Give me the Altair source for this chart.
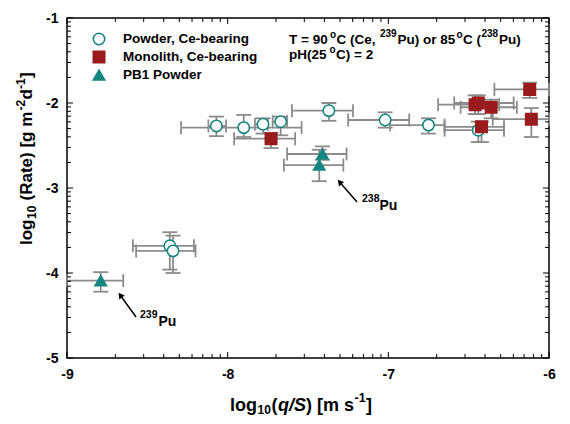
import altair as alt
import pandas as pd
import numpy as np

# ---------------- data ----------------
series_names = ["Powder, Ce-bearing", "Monolith, Ce-bearing", "PB1 Powder"]

powder_x   = [-8.07, -7.90, -7.78, -7.67, -7.37, -7.02, -6.75, -6.44, -8.36, -8.34]
powder_y   = [-2.27, -2.29, -2.25, -2.22, -2.09, -2.20, -2.26, -2.32, -3.68, -3.74]
powder_xlo = [-8.12, -8.29, -7.83, -7.72, -7.60, -7.25, -6.99, -6.65, -8.59, -8.57]
powder_xhi = [-8.01, -7.54, -7.75, -7.63, -7.22, -6.87, -6.65, -6.28, -8.21, -8.20]
powder_ylo = [-2.39, -2.40, -2.36, -2.38, -2.21, -2.29, -2.36, -2.46, -3.96, -4.00]
powder_yhi = [-2.16, -2.14, -2.18, -2.16, -2.00, -2.11, -2.18, -2.22, -3.52, -3.56]

mono_x   = [-7.73, -6.46, -6.44, -6.36, -6.42, -6.12, -6.11]
mono_y   = [-2.42, -2.02, -2.00, -2.05, -2.28, -1.84, -2.19]
mono_xlo = [-7.96, -6.69, -6.59, -6.55, -6.65, -6.34, -6.35]
mono_xhi = [-7.58, -6.31, -6.22, -6.20, -6.28, -6.00, -6.00]
mono_ylo = [-2.53, -2.13, -2.13, -2.18, -2.46, -1.94, -2.40]
mono_yhi = [-2.35, -1.91, -1.91, -1.96, -2.22, -1.76, -2.06]

pb_x   = [-8.79, -7.41, -7.43]
pb_y   = [-4.09, -2.60, -2.73]
pb_xlo = [-9.00, -7.63, -7.65]
pb_xhi = [-8.65, -7.26, -7.28]
pb_ylo = [-4.22, -2.67, -2.92]
pb_yhi = [-3.99, -2.51, -2.55]

x_major = [-9, -8, -7, -6]
y_major = [-5, -4, -3, -2, -1]

# ---------------- layout / style ----------------
W, H = 482, 340
TEAL = "#168680"
RED = "#9a1b1e"
GRAY = "#8c8c8c"
FONT = "Liberation Sans"


def dx(px):  # page pixel -> data x (annotations only)
    return -9 + (px - 67) * 3 / W


def dy(py):  # page pixel -> data y (annotations only)
    return -1 - (py - 18) * 4 / H


rows = []
for name, xs, ys, xl, xh, yl, yh in [
    (series_names[0], powder_x, powder_y, powder_xlo, powder_xhi, powder_ylo, powder_yhi),
    (series_names[1], mono_x, mono_y, mono_xlo, mono_xhi, mono_ylo, mono_yhi),
    (series_names[2], pb_x, pb_y, pb_xlo, pb_xhi, pb_ylo, pb_yhi),
]:
    for i in range(len(xs)):
        rows.append(dict(series=name, x=xs[i], y=ys[i], xlo=xl[i], xhi=xh[i], ylo=yl[i], yhi=yh[i]))
df = pd.DataFrame(rows)

x_scale = alt.Scale(domain=[-9, -6], nice=False, zero=False)
y_scale = alt.Scale(domain=[-5, -1], nice=False, zero=False)

axis_common = dict(
    title=None, labelExpr="'' + datum.value",
    labelFont=FONT, labelFontSize=14, labelFontWeight="bold", labelColor="black",
    labelPadding=9, labelFlush=False, ticks=False, domain=False, grid=False,
)
x_axis = alt.Axis(values=x_major, **axis_common)
y_axis = alt.Axis(values=y_major, **axis_common)


def X(f):
    return alt.X(f, type="quantitative", scale=x_scale, axis=x_axis)


def Y(f):
    return alt.Y(f, type="quantitative", scale=y_scale, axis=y_axis)


base = alt.Chart(df)
layers = []

# error bars
layers.append(base.mark_rule(color=GRAY, strokeWidth=1.8).encode(x=X("xlo"), x2="xhi", y=Y("y")))
layers.append(base.mark_rule(color=GRAY, strokeWidth=1.8).encode(x=X("x"), y=Y("ylo"), y2="yhi"))
for f in ["xlo", "xhi"]:
    layers.append(base.mark_tick(color=GRAY, orient="vertical", size=13, thickness=1.8, opacity=1)
                  .encode(x=X(f), y=Y("y")))
for f in ["ylo", "yhi"]:
    layers.append(base.mark_tick(color=GRAY, orient="horizontal", size=15, thickness=1.8, opacity=1)
                  .encode(x=X("x"), y=Y(f)))

# points with merged legend
leg = alt.Legend(
    title=None, orient="none", legendX=25, legendY=14, padding=0,
    labelFont=FONT, labelFontSize=13.5, labelFontWeight="bold", labelColor="black",
    symbolSize=130, symbolStrokeWidth=1.6, labelOffset=17, rowPadding=0,
)
layers.append(
    base.mark_point(size=130, strokeWidth=1.6, opacity=1).encode(
        x=X("x"), y=Y("y"),
        shape=alt.Shape("series:N", scale=alt.Scale(domain=series_names, range=["circle", "square", "triangle-up"]), legend=leg),
        fill=alt.Fill("series:N", scale=alt.Scale(domain=series_names, range=["white", RED, TEAL]), legend=leg),
        stroke=alt.Stroke("series:N", scale=alt.Scale(domain=series_names, range=[TEAL, RED, TEAL]), legend=leg),
    )
)

# frame ticks (inward, on all four sides)
x_minor = [d + np.log10(k) for d in [-9, -8, -7] for k in range(2, 10)]
y_minor = [d + np.log10(k) for d in [-5, -4, -3, -2] for k in range(2, 10)]
for vals, L in [(x_major, 6), (x_minor, 4)]:
    t = alt.Chart(pd.DataFrame({"v": vals})).mark_rule(color="black", strokeWidth=1)
    layers.append(t.encode(x=X("v"), y=alt.value(H), y2=alt.value(H - L)))
    layers.append(t.encode(x=X("v"), y=alt.value(0), y2=alt.value(L)))
for vals, L in [(y_major, 6), (y_minor, 4)]:
    t = alt.Chart(pd.DataFrame({"v": vals})).mark_rule(color="black", strokeWidth=1)
    layers.append(t.encode(y=Y("v"), x=alt.value(0), x2=alt.value(L)))
    layers.append(t.encode(y=Y("v"), x=alt.value(W), x2=alt.value(W - L)))

# arrows
arrows = pd.DataFrame({
    "x1": [dx(136), dx(357)], "y1": [dy(317), dy(202)],
    "x2": [dx(120.3), dx(339.6)], "y2": [dy(295.2), dy(182.0)],
    "ang": [324, 319],
})
layers.append(alt.Chart(arrows).mark_rule(color="black", strokeWidth=1.5)
              .encode(x=X("x1"), y=Y("y1"), x2="x2", y2="y2"))
layers.append(alt.Chart(arrows).mark_point(shape="triangle-up", size=45, filled=True, color="black", opacity=1)
              .encode(x=X("x2"), y=Y("y2"), angle=alt.Angle("ang:Q", scale=None)))

# annotation texts (horizontal)
texts = pd.DataFrame([
    dict(px=140, py=315, t="239", fs=10.5),
    dict(px=158.5, py=322, t="Pu", fs=14),
    dict(px=362, py=199, t="238", fs=10.5),
    dict(px=379.5, py=206, t="Pu", fs=14),
    dict(px=289, py=40, t="T = 90", fs=13.5),
    dict(px=330, py=35, t="o", fs=10),
    dict(px=336.5, py=40, t="C (Ce,", fs=13.5),
    dict(px=380, py=34, t="239", fs=10),
    dict(px=397.5, py=40, t="Pu) or 85", fs=13.5),
    dict(px=456.5, py=35, t="o", fs=10),
    dict(px=463, py=40, t="C (", fs=13.5),
    dict(px=481.5, py=34, t="238", fs=10),
    dict(px=499, py=40, t="Pu)", fs=13.5),
    dict(px=289, py=55, t="pH(25", fs=13.5),
    dict(px=329.5, py=50, t="o", fs=10),
    dict(px=336, py=55, t="C) = 2", fs=13.5),
    # x-axis title pieces
    dict(px=230, py=405.5, t="log", fs=18),
    dict(px=257.5, py=410, t="10", fs=12),
    dict(px=271.5, py=405.5, t="(", fs=18),
    dict(px=306, py=405.5, t=") [m s", fs=18),
    dict(px=354.5, py=397.5, t="-1", fs=12.5),
    dict(px=366, py=405.5, t="]", fs=18),
])
texts["x"] = texts["px"].map(dx)
texts["y"] = texts["py"].map(dy)
layers.append(alt.Chart(texts).mark_text(align="left", baseline="middle", font=FONT, fontWeight="bold", color="black")
              .encode(x=X("x"), y=Y("y"), text="t:N", size=alt.Size("fs:Q", scale=None)))

italic = pd.DataFrame([dict(px=278, py=405.5, t="q/S", fs=18)])
italic["x"] = italic["px"].map(dx)
italic["y"] = italic["py"].map(dy)
layers.append(alt.Chart(italic).mark_text(align="left", baseline="middle", font=FONT, fontWeight="bold",
                                           fontStyle="italic", color="black")
              .encode(x=X("x"), y=Y("y"), text="t:N", size=alt.Size("fs:Q", scale=None)))

# y-axis title pieces (rotated, reading upward)
ytitle = pd.DataFrame([
    dict(px=27, py=245, t="log", fs=17),
    dict(px=32, py=219, t="10", fs=12),
    dict(px=27, py=200.5, t="(Rate) [g m", fs=17),
    dict(px=21, py=110.5, t="-2", fs=12),
    dict(px=27, py=99.5, t="d", fs=17),
    dict(px=21, py=89, t="-1", fs=12),
    dict(px=27, py=78, t="]", fs=17),
])
ytitle["x"] = ytitle["px"].map(dx)
ytitle["y"] = ytitle["py"].map(dy)
layers.append(alt.Chart(ytitle).mark_text(align="left", baseline="middle", angle=270, font=FONT,
                                           fontWeight="bold", color="black")
              .encode(x=X("x"), y=Y("y"), text="t:N", size=alt.Size("fs:Q", scale=None)))

chart = alt.layer(*layers).properties(
    width=W, height=H,
    autosize=alt.AutoSizeParams(type="none"),
    padding={"left": 59, "top": 10, "right": 13, "bottom": 58},
).configure_view(stroke="black", strokeWidth=1.5)

chart.save("out.html", embed_options={"renderer": "svg", "actions": False})
